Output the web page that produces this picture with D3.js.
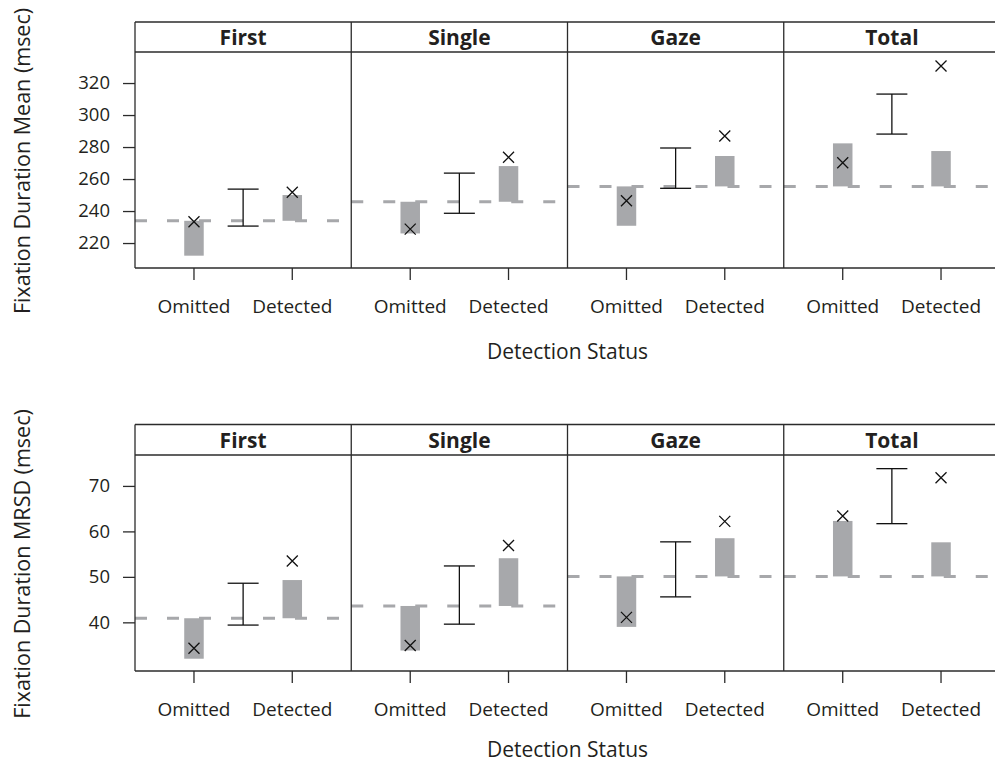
<!DOCTYPE html>
<html>
<head>
<meta charset="utf-8">
<script src="https://cdn.jsdelivr.net/npm/d3@7"></script>
<style>
  body { margin: 0; background: #fff; overflow: hidden; }
  svg { display: block; overflow: hidden; }
  text { font-family: "Open Sans", "DejaVu Sans", sans-serif; fill: #231f20; }
</style>
</head>
<body>
<div id="chart"></div>
<script>
// panels and categories
var measures = ["First", "Single", "Gaze", "Total"];
var statuses = ["Omitted", "Detected"];

// top figure: fixation duration mean (msec)
var meanBase = [233.9, 245.8, 255.4, 255.4];
var meanOmitBar = [212.1, 226.0, 230.8, 282.3];
var meanOmitX = [233.3, 228.7, 246.4, 270.2];
var meanCiLo = [230.6, 238.6, 254.2, 288.1];
var meanCiHi = [253.7, 263.7, 279.4, 313.1];
var meanDetBar = [250.0, 268.1, 274.4, 277.5];
var meanDetX = [251.7, 273.6, 286.9, 330.6];
var meanTicks = [220, 240, 260, 280, 300, 320];

// bottom figure: fixation duration MRSD (msec)
var mrsdBase = [40.9, 43.6, 50.1, 50.1];
var mrsdOmitBar = [32.0, 33.8, 39.0, 62.3];
var mrsdOmitX = [34.3, 34.9, 41.1, 63.4];
var mrsdCiLo = [39.4, 39.6, 45.6, 61.7];
var mrsdCiHi = [48.6, 52.4, 57.7, 73.8];
var mrsdDetBar = [49.3, 54.1, 58.5, 57.6];
var mrsdDetX = [53.5, 56.9, 62.2, 71.8];
var mrsdTicks = [40, 50, 60, 70];

var W = 995, H = 765;
var left = 135, right = 1000;   // right frame edge falls just outside the picture
var frameColor = "#2b2b2b";
var grey = "#a7a8ab";

var svg = d3.select("#chart").append("svg")
    .attr("width", W)
    .attr("height", H);

// one column band per panel
var panelX = d3.scaleBand().domain(measures).range([left, right]);
var pw = panelX.bandwidth();
// position inside a panel: Omitted = 1, Detected = 2
var xin = d3.scaleLinear().domain([0.4, 2.6]).range([0, pw]);

function drawFigure(opt) {
    var y = d3.scaleLinear().domain(opt.domain).range([opt.bottom, opt.top]);
    var g = svg.append("g");

    measures.forEach(function (m, i) {
        var p = g.append("g").attr("transform", "translate(" + panelX(m) + ",0)");
        var xo = xin(1), xc = xin(1.5), xd = xin(2);
        var bw = 19.5, cw = 31;

        // grey bars from the baseline
        p.append("rect")
            .attr("x", xo - bw / 2).attr("width", bw)
            .attr("y", y(Math.max(opt.base[i], opt.omitBar[i])))
            .attr("height", Math.abs(y(opt.base[i]) - y(opt.omitBar[i])))
            .attr("fill", grey);
        p.append("rect")
            .attr("x", xd - bw / 2).attr("width", bw)
            .attr("y", y(Math.max(opt.base[i], opt.detBar[i])))
            .attr("height", Math.abs(y(opt.base[i]) - y(opt.detBar[i])))
            .attr("fill", grey);

        // dashed baseline
        p.append("line")
            .attr("x1", 0).attr("x2", pw)
            .attr("y1", y(opt.base[i])).attr("y2", y(opt.base[i]))
            .attr("stroke", grey)
            .attr("stroke-width", 3)
            .attr("stroke-dasharray", "12,20");

        // error bar in the middle
        var ci = p.append("g").attr("stroke", "#111").attr("stroke-width", 1.3);
        ci.append("line").attr("x1", xc).attr("x2", xc)
            .attr("y1", y(opt.ciLo[i])).attr("y2", y(opt.ciHi[i]));
        ci.append("line").attr("x1", xc - cw / 2).attr("x2", xc + cw / 2)
            .attr("y1", y(opt.ciLo[i])).attr("y2", y(opt.ciLo[i]));
        ci.append("line").attr("x1", xc - cw / 2).attr("x2", xc + cw / 2)
            .attr("y1", y(opt.ciHi[i])).attr("y2", y(opt.ciHi[i]));

        // crosses
        [[xo, opt.omitX[i]], [xd, opt.detX[i]]].forEach(function (c) {
            var cx = c[0], cy = y(c[1]), s = 5.5;
            p.append("path")
                .attr("d", "M" + (cx - s) + "," + (cy - s) + "L" + (cx + s) + "," + (cy + s) +
                    "M" + (cx - s) + "," + (cy + s) + "L" + (cx + s) + "," + (cy - s))
                .attr("stroke", "#111")
                .attr("stroke-width", 1.3)
                .attr("fill", "none");
        });

        // x ticks and labels
        statuses.forEach(function (s, k) {
            var tx = xin(k + 1);
            p.append("line")
                .attr("x1", tx).attr("x2", tx)
                .attr("y1", opt.bottom).attr("y2", opt.bottom + 12)
                .attr("stroke", frameColor).attr("stroke-width", 1.3);
            p.append("text")
                .attr("x", tx).attr("y", opt.bottom + 45)
                .attr("text-anchor", "middle")
                .style("font-size", "19px")
                .text(s);
        });

        // strip title
        p.append("text")
            .attr("x", pw / 2).attr("y", opt.stripTop + 23)
            .attr("text-anchor", "middle")
            .style("font-size", "21px")
            .style("font-weight", "bold")
            .text(m);
    });

    // frame: top, strip line, bottom and left edge, panel dividers (no right edge, it is off the picture)
    var hl = [opt.stripTop, opt.top, opt.bottom];
    hl.forEach(function (yy) {
        g.append("line")
            .attr("x1", left).attr("x2", right)
            .attr("y1", yy).attr("y2", yy)
            .attr("stroke", frameColor).attr("stroke-width", 1.3);
    });
    measures.forEach(function (m) {
        g.append("line")
            .attr("x1", panelX(m)).attr("x2", panelX(m))
            .attr("y1", opt.stripTop).attr("y2", opt.bottom)
            .attr("stroke", frameColor).attr("stroke-width", 1.3);
    });

    // y axis
    var ax = g.append("g")
        .attr("transform", "translate(" + left + ",0)")
        .call(d3.axisLeft(y).tickValues(opt.ticks).tickSize(12).tickPadding(13));
    ax.select(".domain").remove();
    ax.selectAll(".tick line").attr("stroke", frameColor).attr("stroke-width", 1.3);
    ax.selectAll(".tick text")
        .style("font-size", "18.5px")
        .style("font-family", "'Open Sans', sans-serif")
        .attr("fill", "#231f20");

    // axis titles
    g.append("text")
        .attr("transform", "translate(30," + opt.ylabY + ") rotate(-90)")
        .attr("text-anchor", "middle")
        .style("font-size", "21.5px")
        .text(opt.ylab);
    g.append("text")
        .attr("x", (left + right) / 2).attr("y", opt.bottom + opt.xlabDy)
        .attr("text-anchor", "middle")
        .style("font-size", "21px")
        .text("Detection Status");
}

drawFigure({
    stripTop: 22, top: 52, bottom: 268,
    domain: [204.4, 339.4],
    base: meanBase, omitBar: meanOmitBar, omitX: meanOmitX,
    ciLo: meanCiLo, ciHi: meanCiHi, detBar: meanDetBar, detX: meanDetX,
    ticks: meanTicks,
    ylab: "Fixation Duration Mean (msec)", ylabY: 161, xlabDy: 91
});

drawFigure({
    stripTop: 424.5, top: 455, bottom: 671,
    domain: [29.3, 76.8],
    base: mrsdBase, omitBar: mrsdOmitBar, omitX: mrsdOmitX,
    ciLo: mrsdCiLo, ciHi: mrsdCiHi, detBar: mrsdDetBar, detX: mrsdDetX,
    ticks: mrsdTicks,
    ylab: "Fixation Duration MRSD (msec)", ylabY: 564, xlabDy: 86
});
</script>
</body>
</html>
